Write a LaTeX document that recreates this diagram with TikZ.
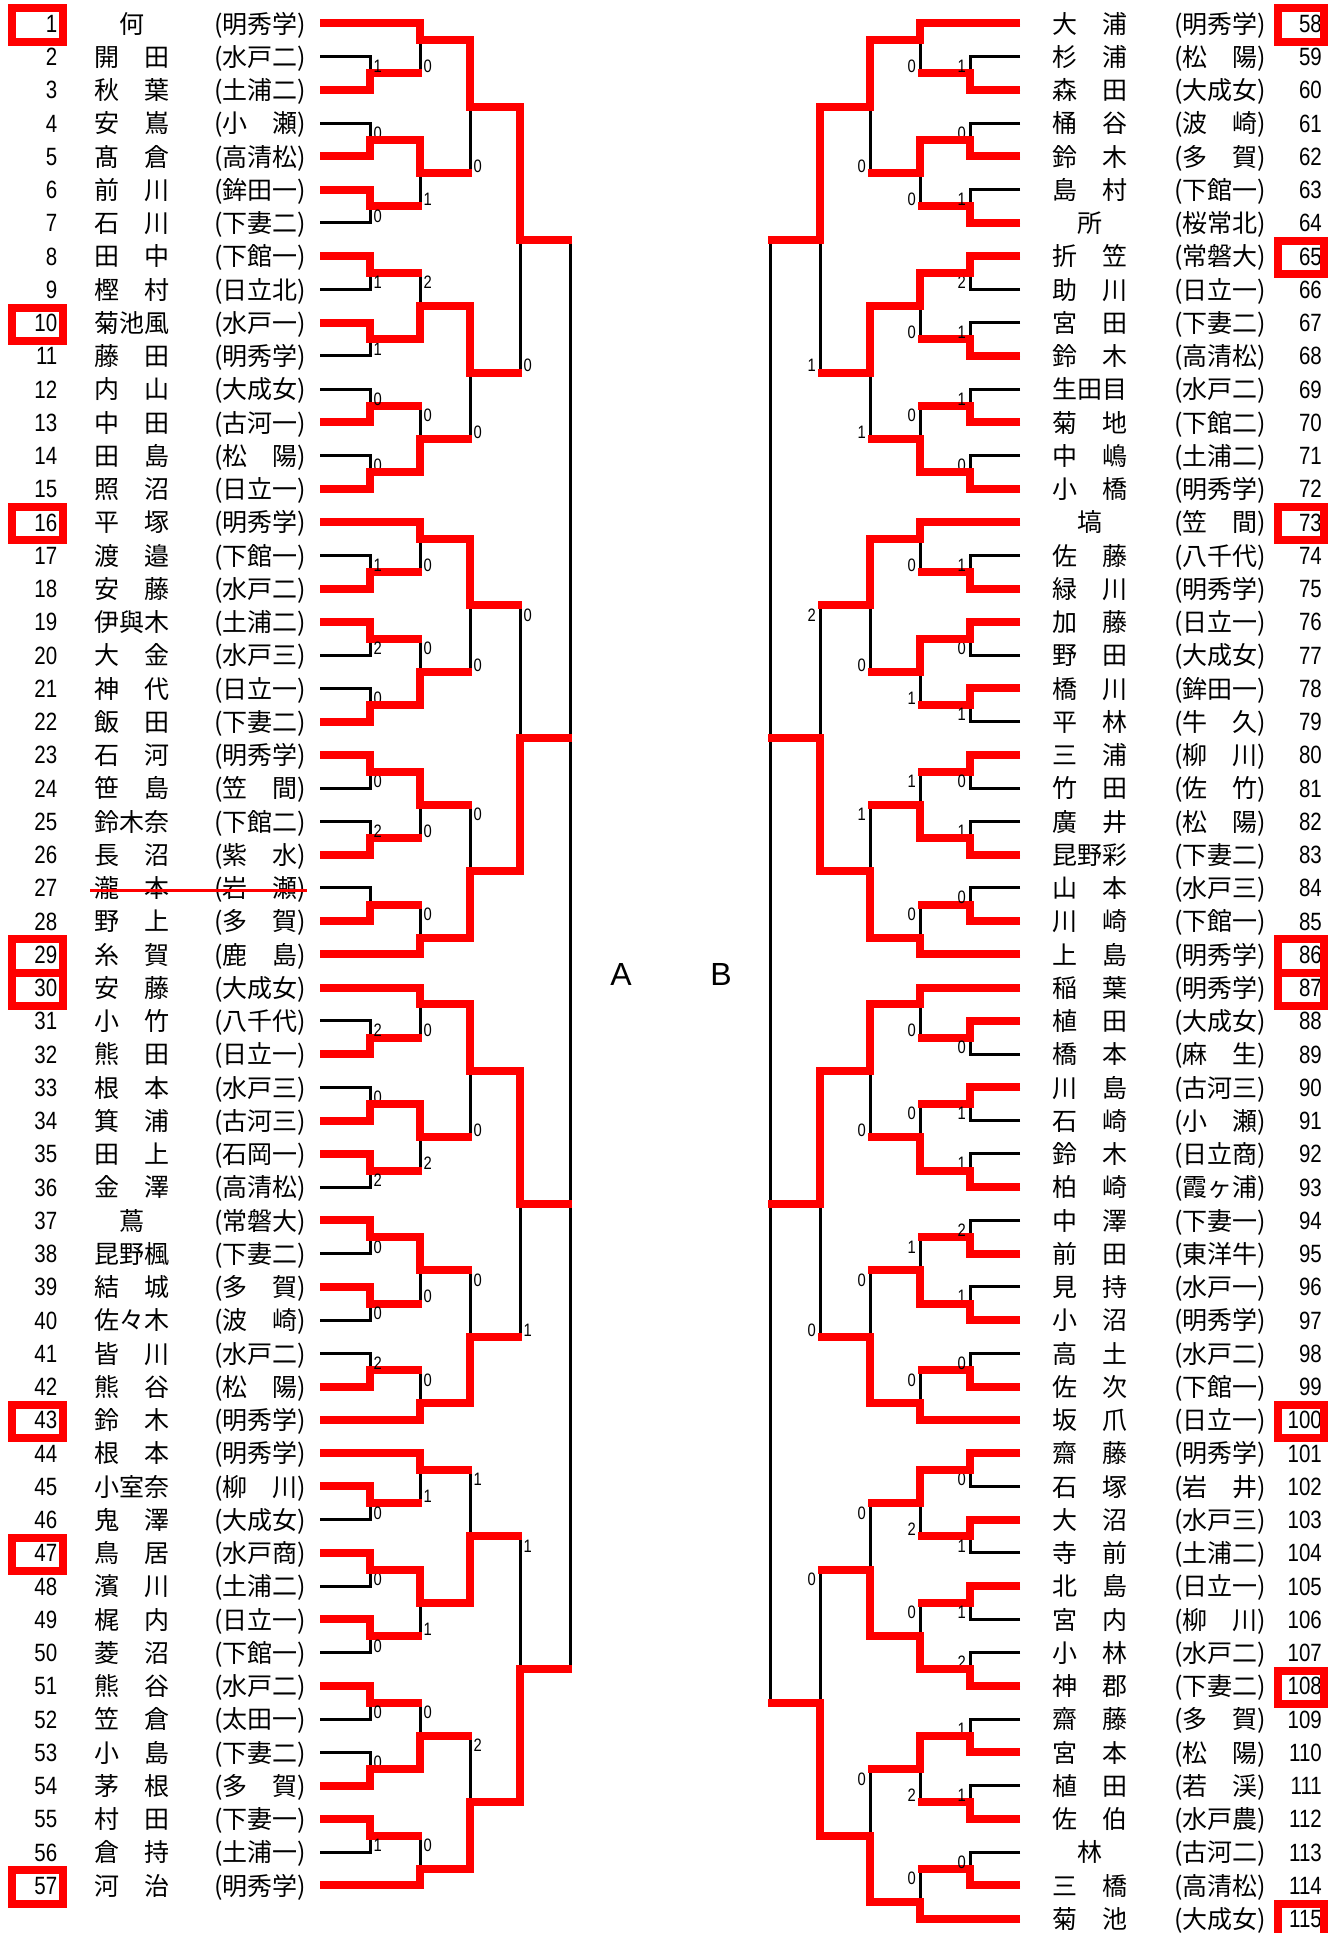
\documentclass[tikz,border=0pt]{standalone}
\usepackage{fontspec}
\setmainfont{Noto Sans CJK JP}
\newfontfamily\numfont[FakeStretch=0.82]{Liberation Sans}
\newfontfamily\labfont{Liberation Sans}
\usepackage{tikz}

\tikzset{
  bline/.style={line width=3pt, line join=miter},
  rline/.style={red, line width=8pt, line join=miter},
  seedbox/.style={red, line width=8pt},
  strike/.style={red, line width=3pt},
  entno/.style={font=\numfont\fontsize{25}{30}\selectfont, inner sep=0pt, anchor=base east},
  jptxt/.style={font=\fontsize{25}{30}\selectfont, inner sep=0pt, anchor=base},
  score/.style={font=\numfont\fontsize{18}{20}\selectfont, inner sep=0pt},
  blocklab/.style={font=\labfont\fontsize{32}{36}\selectfont, inner sep=0pt, anchor=base}
}

% bouts: round x / top row / bottom row / out row / winner (t,b) / score
\def\leftbouts{370/2/3/2.5/b/1, 370/4/5/4.5/b/0, 370/6/7/6.5/t/0, 370/8/9/8.5/t/1,
  370/10/11/10.5/t/1, 370/12/13/12.5/b/0, 370/14/15/14.5/b/0,
  420/1/2.5/1.5/t/0, 420/4.5/6.5/5.5/t/1, 420/8.5/10.5/9.5/b/2, 420/12.5/14.5/13.5/b/0,
  470/1.5/5.5/3.5/t/0, 470/9.5/13.5/11.5/t/0, 520/3.5/11.5/7.5/t/0,
  370/17/18/17.5/b/1, 370/19/20/19.5/t/2, 370/21/22/21.5/b/0, 370/23/24/23.5/t/0,
  370/25/26/25.5/b/2, 370/27/28/27.5/b/{},
  420/16/17.5/16.5/t/0, 420/19.5/21.5/20.5/b/0, 420/23.5/25.5/24.5/t/0, 420/27.5/29/28.5/b/0,
  470/16.5/20.5/18.5/t/0, 470/24.5/28.5/26.5/b/0, 520/18.5/26.5/22.5/b/0,
  370/31/32/31.5/b/2, 370/33/34/33.5/b/0, 370/35/36/35.5/t/2, 370/37/38/37.5/t/0,
  370/39/40/39.5/t/0, 370/41/42/41.5/b/2,
  420/30/31.5/30.5/t/0, 420/33.5/35.5/34.5/t/2, 420/37.5/39.5/38.5/t/0, 420/41.5/43/42.5/b/0,
  470/30.5/34.5/32.5/t/0, 470/38.5/42.5/40.5/b/0, 520/32.5/40.5/36.5/t/1,
  370/45/46/45.5/t/0, 370/47/48/47.5/t/0, 370/49/50/49.5/t/0, 370/51/52/51.5/t/0,
  370/53/54/53.5/b/0, 370/55/56/55.5/t/1,
  420/44/45.5/44.5/t/1, 420/47.5/49.5/48.5/t/1, 420/51.5/53.5/52.5/b/0, 420/55.5/57/56.5/b/0,
  470/44.5/48.5/46.5/b/1, 470/52.5/56.5/54.5/b/2, 520/46.5/54.5/50.5/b/1}

\def\rightbouts{970/2/3/2.5/b/1, 970/4/5/4.5/b/0, 970/6/7/6.5/b/1, 970/8/9/8.5/t/2,
  970/10/11/10.5/b/1, 970/12/13/12.5/b/1, 970/14/15/14.5/b/0,
  920/1/2.5/1.5/t/0, 920/4.5/6.5/5.5/t/0, 920/8.5/10.5/9.5/t/0, 920/12.5/14.5/13.5/b/0,
  870/1.5/5.5/3.5/t/0, 870/9.5/13.5/11.5/t/1, 820/3.5/11.5/7.5/t/1,
  970/17/18/17.5/b/1, 970/19/20/19.5/t/0, 970/21/22/21.5/t/1, 970/23/24/23.5/t/0,
  970/25/26/25.5/b/1, 970/27/28/27.5/b/0,
  920/16/17.5/16.5/t/0, 920/19.5/21.5/20.5/t/1, 920/23.5/25.5/24.5/b/1, 920/27.5/29/28.5/b/0,
  870/16.5/20.5/18.5/t/0, 870/24.5/28.5/26.5/b/1, 820/18.5/26.5/22.5/b/2,
  970/31/32/31.5/t/0, 970/33/34/33.5/t/1, 970/35/36/35.5/b/1, 970/37/38/37.5/b/2,
  970/39/40/39.5/b/1, 970/41/42/41.5/b/0,
  920/30/31.5/30.5/t/0, 920/33.5/35.5/34.5/b/0, 920/37.5/39.5/38.5/b/1, 920/41.5/43/42.5/b/0,
  870/30.5/34.5/32.5/t/0, 870/38.5/42.5/40.5/b/0, 820/32.5/40.5/36.5/t/0,
  970/44/45/44.5/t/0, 970/46/47/46.5/t/1, 970/48/49/48.5/t/1, 970/50/51/50.5/b/2,
  970/52/53/52.5/b/1, 970/54/55/54.5/b/1, 970/56/57/56.5/b/0,
  920/44.5/46.5/45.5/t/2, 920/48.5/50.5/49.5/b/0, 920/52.5/54.5/53.5/t/2, 920/56.5/58/57.5/b/0,
  870/45.5/49.5/47.5/b/0, 870/53.5/57.5/55.5/b/0, 820/47.5/55.5/51.5/b/0}

% black frame of the bouts: #1 x of the entries, #2 step to next round
\newcommand\boutlines[3]{%
  \foreach \x/\ut/\ub/\uo/\w/\s in #3 {
    \pgfmathsetmacro\xt{ifthenelse(\ut==int(\ut), #1, \x-(#2))}
    \pgfmathsetmacro\xb{ifthenelse(\ub==int(\ub), #1, \x-(#2))}
    \draw[bline] (\xt,\ut) -| (\x,\uo);
    \draw[bline] (\xb,\ub) -| (\x,\uo);
  }}

% red path of the winner and the score: #4 score anchor, #5 score shift
\newcommand\boutwins[5]{%
  \foreach \x/\ut/\ub/\uo/\w/\s in #3 {
    \pgfmathsetmacro\xt{ifthenelse(\ut==int(\ut), #1, \x-(#2))}
    \pgfmathsetmacro\xb{ifthenelse(\ub==int(\ub), #1, \x-(#2))}
    \if t\w
      \edef\xw{\xt}\edef\uw{\ut}\edef\ul{\ub}
    \else
      \edef\xw{\xb}\edef\uw{\ub}\edef\ul{\ut}
    \fi
    \pgfmathsetmacro\us{\ul+0.25*sign(\uo-\ul)+0.23}
    \pgfmathsetmacro\xs{\x+(#5)}
    \pgfmathsetmacro\xe{1.04*(#2)}
    \pgfmathtruncatemacro\k{2*\uo}
    \draw[rline] (\xw,\uw) -| (\x,\uo) -- ++(\xe,0);
    \node[score, anchor=base #4] (s\x-\k) at (\xs,\us) {\s};
  }}

\begin{document}
\begin{tikzpicture}[x=1pt, y=-33.25pt]
  \useasboundingbox (0,0.2962) rectangle (1336,58.4316);

  % Entries, block A
  \foreach \n/\nm/\sc in {1/何/明秀学, 2/開　田/水戸二, 3/秋　葉/土浦二, 4/安　嶌/小　瀬,
    5/髙　倉/高清松, 6/前　川/鉾田一, 7/石　川/下妻二, 8/田　中/下館一, 9/樫　村/日立北,
    10/菊池風/水戸一, 11/藤　田/明秀学, 12/内　山/大成女, 13/中　田/古河一, 14/田　島/松　陽,
    15/照　沼/日立一, 16/平　塚/明秀学, 17/渡　邉/下館一, 18/安　藤/水戸二, 19/伊與木/土浦二,
    20/大　金/水戸三, 21/神　代/日立一, 22/飯　田/下妻二, 23/石　河/明秀学, 24/笹　島/笠　間,
    25/鈴木奈/下館二, 26/長　沼/紫　水, 27/瀧　本/岩　瀬, 28/野　上/多　賀, 29/糸　賀/鹿　島,
    30/安　藤/大成女, 31/小　竹/八千代, 32/熊　田/日立一, 33/根　本/水戸三, 34/箕　浦/古河三,
    35/田　上/石岡一, 36/金　澤/高清松, 37/蔦/常磐大, 38/昆野楓/下妻二, 39/結　城/多　賀,
    40/佐々木/波　崎, 41/皆　川/水戸二, 42/熊　谷/松　陽, 43/鈴　木/明秀学, 44/根　本/明秀学,
    45/小室奈/柳　川, 46/鬼　澤/大成女, 47/鳥　居/水戸商, 48/濱　川/土浦二, 49/梶　内/日立一,
    50/菱　沼/下館一, 51/熊　谷/水戸二, 52/笠　倉/太田一, 53/小　島/下妻二, 54/茅　根/多　賀,
    55/村　田/下妻一, 56/倉　持/土浦一, 57/河　治/明秀学} {
    \node[entno] (no\n) at (57.5,\n+0.27) {\n};
    \node[jptxt] (nm\n) at (132,\n+0.29) {\nm};
    \node[jptxt] (sc\n) at (260,\n+0.29) {(\sc)};
  }

  % Entries, block B
  \foreach \n/\nm/\sc in {58/大　浦/明秀学, 59/杉　浦/松　陽, 60/森　田/大成女, 61/桶　谷/波　崎,
    62/鈴　木/多　賀, 63/島　村/下館一, 64/所/桜常北, 65/折　笠/常磐大, 66/助　川/日立一,
    67/宮　田/下妻二, 68/鈴　木/高清松, 69/生田目/水戸二, 70/菊　地/下館二, 71/中　嶋/土浦二,
    72/小　橋/明秀学, 73/塙/笠　間, 74/佐　藤/八千代, 75/緑　川/明秀学, 76/加　藤/日立一,
    77/野　田/大成女, 78/橋　川/鉾田一, 79/平　林/牛　久, 80/三　浦/柳　川, 81/竹　田/佐　竹,
    82/廣　井/松　陽, 83/昆野彩/下妻二, 84/山　本/水戸三, 85/川　崎/下館一, 86/上　島/明秀学,
    87/稲　葉/明秀学, 88/植　田/大成女, 89/橋　本/麻　生, 90/川　島/古河三, 91/石　崎/小　瀬,
    92/鈴　木/日立商, 93/柏　崎/霞ヶ浦, 94/中　澤/下妻一, 95/前　田/東洋牛, 96/見　持/水戸一,
    97/小　沼/明秀学, 98/高　土/水戸二, 99/佐　次/下館一, 100/坂　爪/日立一, 101/齋　藤/明秀学,
    102/石　塚/岩　井, 103/大　沼/水戸三, 104/寺　前/土浦二, 105/北　島/日立一, 106/宮　内/柳　川,
    107/小　林/水戸二, 108/神　郡/下妻二, 109/齋　藤/多　賀, 110/宮　本/松　陽, 111/植　田/若　渓,
    112/佐　伯/水戸農, 113/林/古河二, 114/三　橋/高清松, 115/菊　池/大成女} {
    \pgfmathtruncatemacro\ur{\n-57}
    \node[entno] (no\n) at (1322,\ur+0.27) {\n};
    \node[jptxt] (nm\n) at (1090,\ur+0.29) {\nm};
    \node[jptxt] (sc\n) at (1220,\ur+0.29) {(\sc)};
  }

  % Seeds
  \foreach \n in {1,10,16,29,30,43,47,57}
    \draw[seedbox] (12,\n-0.45) rectangle (63,\n+0.55);
  \foreach \n in {58,65,73,86,87,100,108,115}
    \draw[seedbox] (1278,\n-57-0.45) rectangle (1324,\n-57+0.55);

  % Bracket frame
  \boutlines{320}{50}{\leftbouts}
  \boutlines{1020}{-50}{\rightbouts}
  \draw[bline] (570,7.5) -- (570,50.5);
  \draw[bline] (770,7.5) -- (770,51.5);

  % Winners and scores
  \boutwins{320}{50}{\leftbouts}{west}{3.5}
  \boutwins{1020}{-50}{\rightbouts}{east}{-4}

  % Withdrawn entry
  \draw[strike] (90,27.09) -- (307,27.09);

  % Blocks
  \node[blocklab] (blockA) at (621,29.92) {A};
  \node[blocklab] (blockB) at (721,29.92) {B};
\end{tikzpicture}
\end{document}
